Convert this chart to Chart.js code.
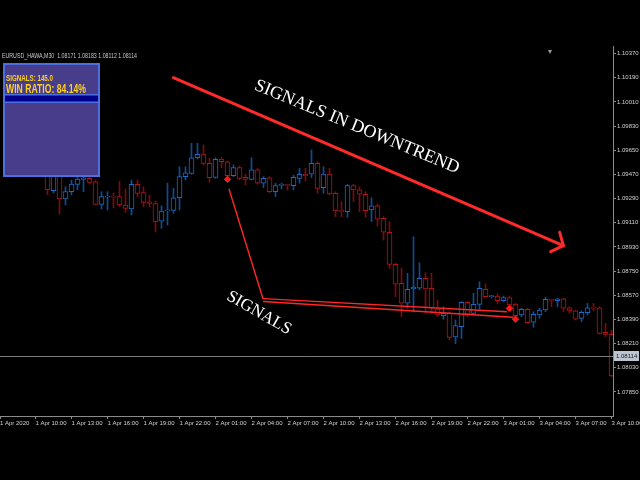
<!DOCTYPE html>
<html><head><meta charset="utf-8">
<script src="https://cdn.jsdelivr.net/npm/chart.js@4.4.1/dist/chart.umd.min.js"></script>
<style>html,body{margin:0;padding:0;background:#000;overflow:hidden}canvas{display:block}</style>
</head><body>
<canvas id="c" width="640" height="480"></canvas>
<script>
// ---- data (EURUSD M30, bar index counted from 1 Apr 07:00) ----
const firstBar = 8;
const opens = [1.09540,1.09349,1.09488,1.09287,1.09341,1.09396,1.09433,1.09440,1.09415,1.09247,
1.09300,1.09306,1.09304,1.09242,1.09213,1.09396,1.09334,1.09265,1.09253,1.09121,
1.09198,1.09202,1.09296,1.09453,1.09478,1.09594,1.09621,1.09552,1.09448,1.09584,
1.09564,1.09460,1.09520,1.09448,1.09433,1.09503,1.09404,1.09445,1.09341,1.09388,
1.09394,1.09386,1.09440,1.09471,1.09471,1.09552,1.09371,1.09473,1.09329,1.09200,
1.09192,1.09386,1.09354,1.09322,1.09205,1.09235,1.09143,1.09039,1.08800,1.08659,
1.08510,1.08617,1.08622,1.08696,1.08622,1.08466,1.08418,1.08435,1.08259,1.08335,
1.08517,1.08435,1.08502,1.08614,1.08560,1.08564,1.08529,1.08552,1.08504,1.08423,
1.08465,1.08369,1.08423,1.08460,1.08538,1.08529,1.08544,1.08477,1.08454,1.08398,
1.08440,1.08480,1.08477,1.08293,1.08278];
const highs = [1.09577,1.09540,1.09532,1.09378,1.09428,1.09453,1.09488,1.09464,1.09428,1.09341,
1.09341,1.09332,1.09420,1.09361,1.09428,1.09428,1.09378,1.09317,1.09272,1.09236,
1.09404,1.09366,1.09527,1.09527,1.09701,1.09701,1.09689,1.09589,1.09594,1.09594,
1.09569,1.09540,1.09532,1.09471,1.09594,1.09515,1.09453,1.09453,1.09404,1.09404,
1.09396,1.09464,1.09515,1.09515,1.09652,1.09564,1.09527,1.09515,1.09341,1.09266,
1.09396,1.09396,1.09378,1.09341,1.09296,1.09247,1.09155,1.09118,1.08808,1.08770,
1.08733,1.09006,1.08812,1.08738,1.08733,1.08535,1.08484,1.08447,1.08386,1.08521,
1.08521,1.08584,1.08671,1.08654,1.08570,1.08579,1.08564,1.08564,1.08509,1.08473,
1.08473,1.08447,1.08473,1.08555,1.08540,1.08547,1.08547,1.08484,1.08460,1.08454,
1.08509,1.08509,1.08484,1.08361,1.08311];
const lows = [1.09317,1.09332,1.09175,1.09242,1.09317,1.09354,1.09341,1.09398,1.09242,1.09212,
1.09205,1.09220,1.09229,1.09187,1.09168,1.09304,1.09229,1.09229,1.09041,1.09068,
1.09093,1.09180,1.09205,1.09428,1.09471,1.09584,1.09539,1.09411,1.09440,1.09520,
1.09450,1.09453,1.09428,1.09391,1.09428,1.09396,1.09371,1.09334,1.09304,1.09361,
1.09354,1.09354,1.09404,1.09421,1.09445,1.09329,1.09329,1.09317,1.09155,1.09155,
1.09150,1.09266,1.09192,1.09150,1.09118,1.09086,1.08981,1.08770,1.08559,1.08410,
1.08473,1.08447,1.08609,1.08435,1.08435,1.08410,1.08391,1.08237,1.08210,1.08248,
1.08410,1.08423,1.08465,1.08555,1.08549,1.08509,1.08522,1.08482,1.08410,1.08410,
1.08361,1.08331,1.08398,1.08447,1.08484,1.08484,1.08447,1.08435,1.08386,1.08373,
1.08423,1.08454,1.08281,1.08261,1.07964];
const closes = [1.09354,1.09503,1.09287,1.09341,1.09398,1.09435,1.09445,1.09411,1.09247,1.09304,
1.09306,1.09300,1.09242,1.09217,1.09396,1.09329,1.09262,1.09253,1.09116,1.09196,
1.09204,1.09296,1.09453,1.09482,1.09594,1.09619,1.09552,1.09445,1.09582,1.09564,
1.09460,1.09520,1.09440,1.09433,1.09503,1.09404,1.09440,1.09341,1.09386,1.09394,
1.09388,1.09448,1.09471,1.09460,1.09552,1.09366,1.09473,1.09324,1.09197,1.09194,
1.09386,1.09354,1.09322,1.09200,1.09235,1.09136,1.09039,1.08800,1.08653,1.08510,
1.08614,1.08630,1.08696,1.08617,1.08473,1.08423,1.08435,1.08256,1.08344,1.08517,
1.08429,1.08502,1.08622,1.08559,1.08565,1.08529,1.08552,1.08497,1.08417,1.08465,
1.08366,1.08428,1.08460,1.08540,1.08532,1.08544,1.08473,1.08454,1.08392,1.08442,
1.08477,1.08474,1.08286,1.08278,1.07969];

const yTicks = [1.10370,1.10190,1.10010,1.09830,1.09650,1.09470,1.09290,1.09110,1.08930,1.08750,1.08570,1.08390,1.08210,1.08030,1.07850];
const xTickBars = [0,6,12,18,24,30,36,42,48,54,60,66,72,78,84,90,96,102];
const xTickLabels = ['1 Apr 2020','1 Apr 10:00','1 Apr 13:00','1 Apr 16:00','1 Apr 19:00','1 Apr 22:00','2 Apr 01:00','2 Apr 04:00','2 Apr 07:00','2 Apr 10:00','2 Apr 13:00','2 Apr 16:00','2 Apr 19:00','2 Apr 22:00','3 Apr 01:00','3 Apr 04:00','3 Apr 07:00','3 Apr 10:00'];
const signalBars = [38, 85, 86];
const signalPrices = [1.09433, 1.08473, 1.08392];
const lastPrice = 1.08114;
const shiftMarkerBar = 91.75;
const symbolTitle = 'EURUSD_HAWA,M30  1.08171 1.08183 1.08112 1.08114';
const panelSignals = 'SIGNALS: 145.0';
const panelWinRatio = 'WIN RATIO: 84.14%';

// annotations, anchored in (bar, price)
const trendArrow = [[28.97, 1.10190], [93.97, 1.08939]];
const signalLines = [
  [[38.25, 1.09361], [43.92, 1.08542]],
  [[43.92, 1.08545], [84.58, 1.08447]],
  [[43.92, 1.08523], [85.58, 1.08406]]
];
const notes = [
  {text: 'SIGNALS IN DOWNTREND', bar: 59.58, price: 1.09823, angle: 22.5, size: 18},
  {text: 'SIGNALS', bar: 43.25, price: 1.08438, angle: 30, size: 17}
];

// ---- styles ----
const RED = '#b81414', RED_WICK = '#7e0c0c';
const BLUE = '#1c6ac8', BLUE_WICK = '#104c92';
const AXIS = '#8a8a8a', TXT = '#d2d2d2';
const FONT = '"Liberation Sans Narrow","Arial Narrow","Liberation Sans",Arial,sans-serif';

const bars = opens.map((_, j) => firstBar + j);
const up = j => closes[j] >= opens[j];

const overlay = {
  id: 'overlay',
  afterDatasetsDraw(chart) {
    const {ctx, chartArea: a, scales: {x, y}} = chart;
    const X = v => x.getPixelForValue(v), Y = v => y.getPixelForValue(v);
    ctx.save();
    const py = Math.round(Y(lastPrice)) + 0.5;
    ctx.strokeStyle = '#7c7c7c'; ctx.lineWidth = 1;
    ctx.beginPath(); ctx.moveTo(a.left, py); ctx.lineTo(a.right, py); ctx.stroke();

    // chart shift marker
    const mx = Math.round(X(shiftMarkerBar));
    ctx.fillStyle = '#9a9a9a';
    ctx.beginPath(); ctx.moveTo(mx - 2, a.top + 4); ctx.lineTo(mx + 2, a.top + 4); ctx.lineTo(mx, a.top + 8); ctx.closePath(); ctx.fill();

    ctx.strokeStyle = '#ff2626'; ctx.lineWidth = 1.4;
    signalLines.forEach(([p, q]) => {
      ctx.beginPath(); ctx.moveTo(X(p[0]), Y(p[1])); ctx.lineTo(X(q[0]), Y(q[1])); ctx.stroke();
    });

    const [s, e] = trendArrow;
    const x1 = X(s[0]), y1 = Y(s[1]), x2 = X(e[0]), y2 = Y(e[1]);
    ctx.strokeStyle = '#ff2a2a'; ctx.lineWidth = 3; ctx.lineCap = 'round';
    ctx.beginPath(); ctx.moveTo(x1, y1); ctx.lineTo(x2, y2); ctx.stroke();
    const ang = Math.atan2(y2 - y1, x2 - x1) + Math.PI;
    [0.9, -0.85].forEach(d => {
      ctx.beginPath(); ctx.moveTo(x2, y2);
      ctx.lineTo(x2 + 14 * Math.cos(ang + d), y2 + 14 * Math.sin(ang + d)); ctx.stroke();
    });

    notes.forEach(n => {
      ctx.save();
      ctx.translate(X(n.bar), Y(n.price));
      ctx.rotate(n.angle * Math.PI / 180);
      ctx.font = n.size + 'px "Liberation Serif","Times New Roman",serif';
      ctx.fillStyle = '#ffffff'; ctx.textAlign = 'center'; ctx.textBaseline = 'middle';
      ctx.fillText(n.text, 0, 0);
      ctx.restore();
    });
    ctx.restore();
  },
  afterDraw(chart) {
    const {ctx, chartArea: a, scales: {y}} = chart;
    ctx.save();
    // title
    ctx.font = '7px ' + FONT; ctx.fillStyle = '#c8c8c8';
    ctx.textBaseline = 'middle'; ctx.textAlign = 'left';
    ctx.fillText(symbolTitle, 2, 56.5, 135);
    // panel
    const px = 3, py = 63, pw = 97, ph = 114;
    ctx.fillStyle = '#483d8b'; ctx.fillRect(px, py, pw, ph);
    ctx.strokeStyle = '#4e6fe0'; ctx.lineWidth = 2; ctx.strokeRect(px + 1, py + 1, pw - 2, ph - 2);
    ctx.fillStyle = '#4e6fe0'; ctx.fillRect(px + 2, 94, pw - 4, 9);
    ctx.fillStyle = '#00008b'; ctx.fillRect(px + 2, 95.5, pw - 4, 6);
    ctx.fillStyle = '#ffd21a'; ctx.textBaseline = 'alphabetic';
    ctx.font = 'bold 9px ' + FONT; ctx.fillText(panelSignals, 6, 80.5, 47);
    ctx.font = 'bold 12px ' + FONT; ctx.fillText(panelWinRatio, 6, 93, 80);
    // price tag
    const ty = Math.round(y.getPixelForValue(lastPrice));
    ctx.fillStyle = '#bcc4d0'; ctx.fillRect(614, ty - 5, 25, 10);
    ctx.fillStyle = '#202020'; ctx.font = '6px ' + FONT; ctx.textBaseline = 'middle';
    ctx.fillText(lastPrice.toFixed(5), 616, ty + 0.5, 22);
    ctx.restore();
  }
};

new Chart(document.getElementById('c'), {
  type: 'bar',
  data: {
    datasets: [
      {
        type: 'scatter', order: 0,
        data: signalBars.map((b, k) => ({x: b, y: signalPrices[k]})),
        pointStyle: 'rectRot', radius: 3.2, borderWidth: 1,
        backgroundColor: '#ff1a1a', borderColor: '#ff1a1a'
      },
      {
        order: 1, grouped: false, barThickness: 5, minBarLength: 1,
        data: bars.map((b, j) => ({x: b, y: [opens[j], closes[j]]})),
        backgroundColor: '#000000',
        borderColor: c => up(c.dataIndex) ? BLUE : RED,
        borderWidth: 1, borderSkipped: false
      },
      {
        order: 2, grouped: false, barThickness: 1,
        data: bars.map((b, j) => ({x: b, y: [lows[j], highs[j]]})),
        backgroundColor: c => up(c.dataIndex) ? BLUE_WICK : RED_WICK,
        borderWidth: 0
      }
    ]
  },
  options: {
    responsive: false, animation: false, devicePixelRatio: 1,
    layout: {autoPadding: false, padding: {top: 46, bottom: 52, left: 0, right: 0}},
    plugins: {legend: {display: false}, tooltip: {enabled: false}},
    scales: {
      x: {
        type: 'linear', min: 0.0833, max: 102.25, offset: false,
        grid: {display: true, offset: false, drawOnChartArea: false, drawTicks: true, tickLength: 3, color: AXIS},
        border: {display: true, color: AXIS},
        ticks: {autoSkip: false, maxRotation: 0, align: 'start', padding: 1, color: TXT,
          font: {family: FONT, size: 6}, callback: (v, i) => xTickLabels[i]},
        afterBuildTicks: s => { s.ticks = xTickBars.map(b => ({value: Math.max(b, s.min)})); },
        afterFit: s => { s.height = 12; s.paddingLeft = 0; s.paddingRight = 0; }
      },
      y: {
        type: 'linear', position: 'right', min: 1.076706, max: 1.10426,
        grid: {display: true, drawOnChartArea: false, drawTicks: true, tickLength: 3, color: AXIS},
        border: {display: true, color: AXIS},
        ticks: {padding: 1, color: TXT, font: {family: FONT, size: 6}, callback: v => v.toFixed(5)},
        afterBuildTicks: s => { s.ticks = yTicks.map(v => ({value: v})); },
        afterFit: s => { s.width = 27; s.paddingTop = 0; s.paddingBottom = 0; }
      }
    }
  },
  plugins: [overlay]
});
</script>
</body></html>
